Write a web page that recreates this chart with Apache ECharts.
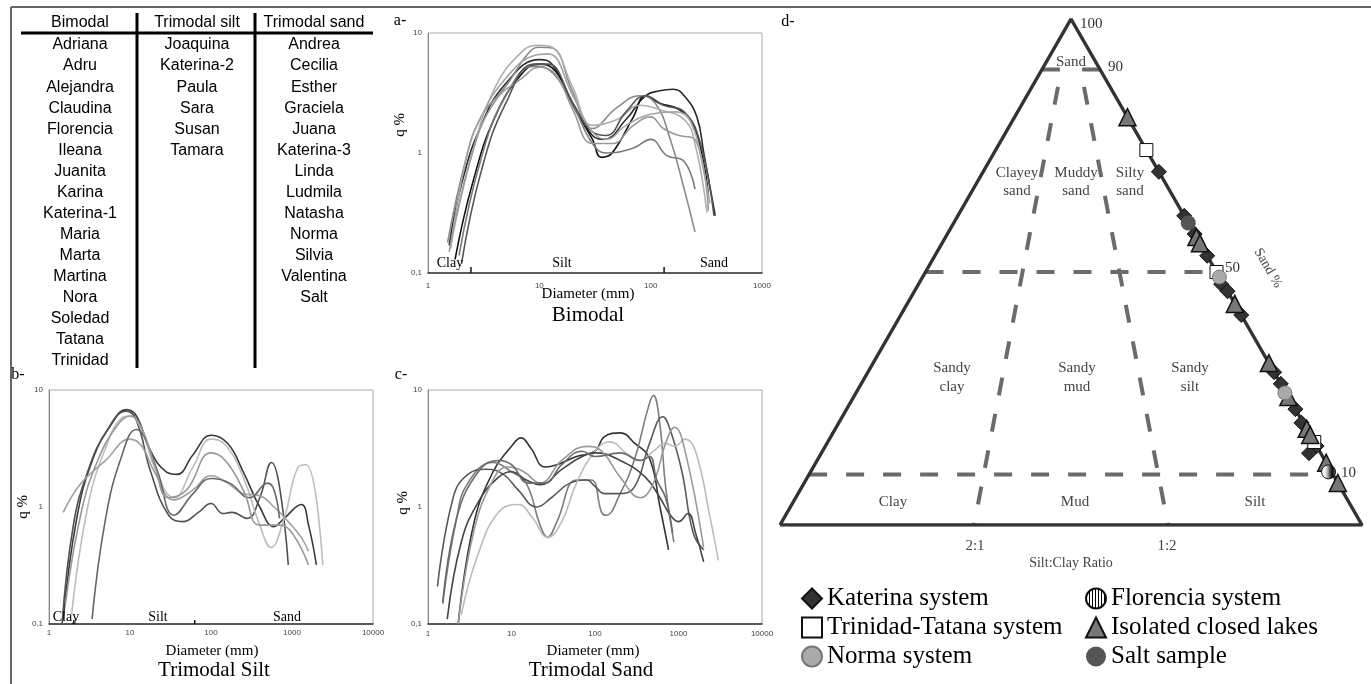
<!DOCTYPE html>
<html>
<head>
<meta charset="utf-8">
<script src="https://cdn.jsdelivr.net/npm/echarts@6/dist/echarts.min.js"></script>
<style>
  html, body { margin: 0; padding: 0; background: #fff; }
  #chart { width: 1371px; height: 684px; }
</style>
</head>
<body>
<div id="chart"></div>
<script>
const serif = 'Liberation Serif';
const sans = 'Liberation Sans';

// ---- table ----
const tableHeaders = ['Bimodal', 'Trimodal silt', 'Trimodal sand'];
const bimodalNames = ['Adriana', 'Adru', 'Alejandra', 'Claudina', 'Florencia', 'Ileana', 'Juanita', 'Karina',
  'Katerina-1', 'Maria', 'Marta', 'Martina', 'Nora', 'Soledad', 'Tatana', 'Trinidad'];
const trimodalSiltNames = ['Joaquina', 'Katerina-2', 'Paula', 'Sara', 'Susan', 'Tamara'];
const trimodalSandNames = ['Andrea', 'Cecilia', 'Esther', 'Graciela', 'Juana', 'Katerina-3', 'Linda', 'Ludmila',
  'Natasha', 'Norma', 'Silvia', 'Valentina', 'Salt'];

// ---- grain size curves [diameter, q%] ----
const bimodalCurves = [
  [[1.55,0.17],[2,0.55],[3,1.7],[5,3.8],[10,6.0],[13,5.5],[20,2.6],[30,1.4],[38,1.3],[60,1.9],[90,3.0],[120,3.3],[160,3.4],[200,3.0],[260,2.0],[300,1.0],[380,0.3]],
  [[1.75,0.13],[2.5,0.55],[4,2.0],[7,4.6],[10,5.5],[14,4.8],[20,2.5],[30,1.3],[36,0.92],[45,1.0],[70,2.0],[90,3.0],[120,2.6],[180,2.3],[250,1.6],[330,0.45]],
  [[1.5,0.18],[2.2,0.9],[3,2.0],[5,3.6],[8,6.8],[10,7.6],[13,7.5],[20,3.2],[30,1.6],[50,2.4],[80,3.0],[110,2.6],[150,1.3],[200,0.5],[250,0.22]],
  [[1.6,0.17],[2.5,1.0],[4,3.5],[7,7.0],[10,7.9],[13,7.6],[20,3.5],[30,1.7],[50,1.9],[80,2.5],[120,2.3],[200,1.9],[250,1.2],[320,0.32]],
  [[1.9,0.14],[3,0.9],[5,3.0],[9,5.3],[12,5.0],[20,2.5],[30,1.2],[40,1.0],[70,1.1],[100,1.3],[140,0.95],[200,0.85],[250,0.5]],
  [[1.55,0.15],[2.5,1.0],[4,2.7],[7,4.2],[10,5.2],[14,4.5],[20,2.3],[30,1.2],[45,1.2],[70,1.7],[100,2.0],[130,1.6],[180,1.4],[250,1.3],[330,0.33]],
  [[2.0,0.12],[3,0.7],[5,2.6],[9,5.5],[12,5.5],[20,2.6],[30,1.5],[40,1.4],[60,2.2],[90,3.0],[130,2.5],[200,2.2],[280,1.2],[370,0.3]],
  [[1.6,0.16],[2.2,0.9],[3,2.0],[5,4.2],[9,6.5],[12,6.7],[20,3.0],[30,1.5],[40,1.3],[60,1.7],[100,2.1],[170,2.2],[230,1.8],[300,0.7],[340,0.38]]
];
const bimodalColors = ['#2a2a2a', '#111', '#8a8a8a', '#b0b0b0', '#7a7a7a', '#999', '#555', '#a5a5a5'];

const trimodalSiltCurves = [
  [[1.5,0.11],[2.2,0.8],[3.5,2.6],[6,5.2],[9,6.8],[12,6.0],[18,3.0],[28,2.0],[38,1.9],[60,2.8],[100,4.1],[160,3.5],[250,2.0],[400,1.0],[600,0.68],[800,0.8],[1300,1.05],[1600,0.7],[2000,0.32]],
  [[1.45,0.1],[2,0.7],[3,2.0],[5,4.3],[9,6.6],[12,5.5],[18,2.0],[30,0.85],[45,0.75],[70,0.9],[100,1.07],[140,0.88],[180,0.9],[280,0.8],[400,1.2],[560,2.4],[700,1.5],[900,0.32]],
  [[1.9,0.12],[3,1.0],[5,3.2],[8,5.8],[10,6.0],[14,4.5],[20,2.2],[35,1.2],[60,2.2],[100,3.8],[150,3.4],[250,1.8],[400,0.7],[550,0.45],[800,0.8],[1200,2.2],[1500,2.3],[2400,0.32]],
  [[1.5,0.9],[2.5,1.6],[5,2.5],[10,3.8],[14,3.3],[20,2.0],[35,1.15],[60,1.4],[100,1.85],[160,1.6],[250,1.3],[400,1.25],[600,1.0],[900,0.75],[1300,0.55],[1600,0.42]],
  [[3.4,0.11],[5,0.8],[8,2.8],[12,4.6],[15,4.0],[22,2.0],[35,0.85],[60,1.3],[100,1.75],[170,1.6],[300,1.2],[500,1.6],[600,1.4],[700,0.8]],
  [[1.6,0.15],[2.5,0.9],[4,2.5],[7,5.0],[10,6.0],[14,4.7],[20,2.3],[30,1.2],[50,1.4],[100,2.9],[150,2.5],[250,1.4],[400,0.7],[700,0.7],[1000,0.6],[1600,0.32]]
];
const trimodalSiltColors = ['#3a3a3a', '#505050', '#bdbdbd', '#a0a0a0', '#666', '#999'];

const trimodalSandCurves = [
  [[2.3,0.1],[3.5,0.7],[6,2.0],[10,3.3],[13,3.9],[17,3.2],[25,2.2],[35,2.3],[60,2.7],[100,3.0],[130,4.0],[200,4.3],[300,3.5],[450,2.6],[600,1.0],[760,0.43]],
  [[1.5,0.15],[2.2,0.8],[3,1.6],[6,2.4],[10,2.0],[15,1.6],[22,0.7],[27,0.55],[35,0.75],[60,1.7],[90,1.7],[120,0.9],[135,0.85],[200,1.3],[300,2.6],[420,6.5],[500,9.0],[600,5.0],[700,1.5],[880,0.5]],
  [[1.3,0.21],[2,1.2],[3,1.9],[5,2.1],[8,1.9],[12,1.4],[20,1.0],[30,1.2],[50,1.6],[80,1.7],[100,1.5],[130,1.3],[200,1.3],[300,1.5],[450,3.5],[650,5.9],[800,4.5],[1100,2.0],[1500,0.6],[2000,0.43]],
  [[2.5,0.12],[4,0.4],[7,0.9],[12,1.05],[18,0.8],[27,0.55],[40,0.75],[60,1.6],[100,3.0],[150,3.6],[250,2.8],[350,2.5],[500,3.0],[700,3.5],[900,3.3],[1200,3.8],[1600,3.0],[2400,0.8],[3000,0.35]],
  [[1.7,0.11],[2.5,0.5],[4,1.1],[7,1.8],[10,2.0],[15,1.7],[22,1.55],[40,2.1],[70,2.7],[100,2.9],[200,2.5],[400,1.8],[600,1.2],[800,0.85],[1000,0.75],[1300,0.88],[1600,0.6],[2000,0.34]],
  [[2.3,0.1],[3.5,0.6],[6,1.7],[9,2.2],[14,2.0],[22,1.6],[40,2.5],[80,3.3],[120,3.0],[200,1.8],[350,1.2],[500,1.6],[700,3.5],[900,4.8],[1200,3.0],[2000,0.45]],
  [[1.5,0.15],[2.2,0.8],[4,2.0],[7,2.5],[10,2.3],[16,1.6],[25,1.6],[40,2.3],[70,3.0],[100,2.7],[200,2.9],[350,2.5],[450,2.7],[550,1.7],[700,1.2],[850,0.6]]
];
const trimodalSandColors = ['#333', '#7d7d7d', '#5a5a5a', '#bcbcbc', '#444', '#999', '#6a6a6a'];

// size class boundary ticks on the x axis
const boundsA = [2.43, 132];
const boundsB = [2.03, 63];

// ---- ternary (Folk) diagram: sand %, clay % ----
const sandLevels = [10, 50];
const ratioSilt = [1 / 3, 2 / 3];        // silt fraction of mud at 2:1 and 1:2
const katerinaSand = [69.8, 61.1, 57.5, 53.2, 47.6, 46.2, 41.5, 30.2, 27.9, 22.9, 20.2, 15.6, 14.2];
const katerinaClay = [0, 0, 0, 0, 0.4, 0, 0, 0, 0, 0, 0.3, 0, 2.0];
const trinidadSand = [74.1, 50.0, 16.4];
const trinidadClay = [0, 0, 0];
const normaSand = [49.0, 26.1];
const normaClay = [0, 0.2];
const florenciaSand = [10.5];
const florenciaClay = [0.5];
const isolatedSand = [80.6, 56.9, 55.7, 43.7, 32.0, 25.3, 19.0, 17.8, 12.3, 8.3];
const isolatedClay = [0, 0, 0, 0, 0, 0, 0, 0, 0, 0];
const saltSand = [59.7];
const saltClay = [0];

function tern(sand, clay) {
  const s = sand / 100, c = clay / 100;
  return [1 - c - s / 2, s];
}
function pts(sand, clay) { return sand.map((s, i) => tern(s, clay[i])); }

const chart = echarts.init(document.getElementById('chart'));

function logX(idx, max, margin) {
  return {
    type: 'log', logBase: 10, min: 1, max: max, gridIndex: idx, interval: 1,
    axisLine: { lineStyle: { color: '#333', width: 1.5 } },
    axisTick: { show: false }, splitLine: { show: false },
    axisLabel: { fontSize: 8, color: '#444', fontFamily: sans, margin: margin,
      formatter: v => String(Math.round(v)) }
  };
}
function logY(idx) {
  return {
    type: 'log', logBase: 10, min: 0.1, max: 10, gridIndex: idx, interval: 1,
    axisLine: { show: true, lineStyle: { color: '#888', width: 1 } },
    axisTick: { show: false }, splitLine: { show: false },
    axisLabel: { fontSize: 8, color: '#444', fontFamily: sans, margin: 6,
      formatter: v => v < 0.5 ? '0,1' : String(Math.round(v)) }
  };
}

const series = [];
function addCurves(curves, colors, idx) {
  curves.forEach((c, i) => series.push({
    type: 'line', xAxisIndex: idx, yAxisIndex: idx, data: c, smooth: 0.45,
    showSymbol: false, lineStyle: { color: colors[i % colors.length], width: 1.6 }, z: 3
  }));
}
addCurves(bimodalCurves, bimodalColors, 0);
addCurves(trimodalSiltCurves, trimodalSiltColors, 1);
addCurves(trimodalSandCurves, trimodalSandColors, 2);

function addBounds(bounds, idx, h) {
  bounds.forEach(b => series.push({
    type: 'line', xAxisIndex: idx, yAxisIndex: idx, data: [[b, 0.1], [b, h]],
    showSymbol: false, lineStyle: { color: '#111', width: 1.5 }, z: 4
  }));
}
addBounds(boundsA, 0, 0.112);
addBounds(boundsB, 1, 0.108);

// ternary lines
const dash = { color: '#6b6b6b', width: 4, type: [18, 19] };
series.push({
  type: 'line', xAxisIndex: 3, yAxisIndex: 3, showSymbol: false, z: 2,
  data: [tern(0, 100), tern(100, 0), tern(0, 0), tern(0, 100)],
  lineStyle: { color: '#333', width: 3.5 }
});
sandLevels.forEach(l => series.push({
  type: 'line', xAxisIndex: 3, yAxisIndex: 3, showSymbol: false, z: 1,
  data: [tern(l, 100 - l), tern(l, 0)], lineStyle: dash
}));
ratioSilt.forEach(r => {
  const edgeClay = r < 0.5 ? 10 : 0;
  series.push({
    type: 'line', xAxisIndex: 3, yAxisIndex: 3, showSymbol: false, z: 1,
    data: [tern(90, edgeClay), tern(90, 10 * (1 - r)), tern(0, 100 * (1 - r))], lineStyle: dash
  });
});

const stripe = document.createElement('canvas');
stripe.width = 3; stripe.height = 3;
const sg = stripe.getContext('2d');
sg.fillStyle = '#fff'; sg.fillRect(0, 0, 3, 3);
sg.fillStyle = '#000'; sg.fillRect(0, 0, 1, 3);

function scatter(name, data, symbol, size, color, border, bw, z) {
  series.push({
    name: name, type: 'scatter', xAxisIndex: 3, yAxisIndex: 3, data: data,
    symbol: symbol, symbolSize: size, z: z,
    itemStyle: { color: color, borderColor: border, borderWidth: bw, opacity: 1 }
  });
}
scatter('Katerina system', pts(katerinaSand, katerinaClay), 'diamond', 15, '#333', '#111', 1, 5);
scatter('Trinidad-Tatana system', pts(trinidadSand, trinidadClay), 'rect', 13, '#fff', '#111', 1, 6);
scatter('Norma system', pts(normaSand, normaClay), 'circle', 14, '#aaa', '#777', 1, 7);
scatter('Florencia system', pts(florenciaSand, florenciaClay), 'circle', 14, { image: stripe, repeat: 'repeat' }, '#111', 1, 8);
scatter('Isolated closed lakes', pts(isolatedSand, isolatedClay), 'triangle', 17, '#777', '#111', 1.5, 6);
scatter('Salt sample', pts(saltSand, saltClay), 'circle', 15, '#555', '#555', 0, 8);

// ---- texts ----
const graphic = [];
function txt(t, x, y, size, opts) {
  opts = opts || {};
  graphic.push({
    type: 'text', x: x, y: y, rotation: opts.rot || 0, z: 10,
    style: {
      text: t, fontSize: size, fontFamily: opts.font || serif, fill: opts.color || '#000',
      align: opts.align || 'center', verticalAlign: 'middle',
      textAlign: opts.align || 'center', textVerticalAlign: 'middle'
    }
  });
}
function ln(x1, y1, x2, y2, w, c) {
  graphic.push({ type: 'line', shape: { x1: x1, y1: y1, x2: x2, y2: y2 }, z: 10,
    style: { stroke: c, lineWidth: w } });
}
// frame
ln(11, 7, 1371, 7, 2, '#666');
ln(11, 7, 11, 684, 2, '#666');
// table
const colX = [80, 197, 314];
tableHeaders.forEach((h, i) => txt(h, colX[i], 23, 16, { font: sans }));
ln(21, 33, 373, 33, 3, '#000');
ln(137, 13, 137, 368, 3, '#000');
ln(255, 13, 255, 368, 3, '#000');
[bimodalNames, trimodalSiltNames, trimodalSandNames].forEach((col, i) =>
  col.forEach((n, j) => txt(n, colX[i], 45 + j * 21.07, 16, { font: sans })));

// chart a
txt('a-', 400, 21, 16);
txt('q %', 400, 125, 15, { rot: Math.PI / 2 });
txt('Clay', 450, 263, 14);
txt('Silt', 562, 263, 14);
txt('Sand', 714, 263, 14);
txt('Diameter (mm)', 588, 294, 15);
txt('Bimodal', 588, 315, 21);
// chart b
txt('b-', 18, 375, 16);
txt('q %', 23, 507, 15, { rot: Math.PI / 2 });
txt('Clay', 66, 617, 14);
txt('Silt', 158, 617, 14);
txt('Sand', 287, 617, 14);
txt('Diameter (mm)', 212, 651, 15);
txt('Trimodal Silt', 214, 670, 21);
// chart c
txt('c-', 401, 375, 16);
txt('q %', 403, 503, 15, { rot: Math.PI / 2 });
txt('Diameter (mm)', 593, 651, 15);
txt('Trimodal Sand', 591, 670, 21);
// ternary
const g = '#444';
txt('d-', 788, 22, 16);
txt('Sand', 1071, 62, 15, { color: g });
txt('Clayey', 1017, 173, 15, { color: g }); txt('sand', 1017, 191, 15, { color: g });
txt('Muddy', 1076, 173, 15, { color: g }); txt('sand', 1076, 191, 15, { color: g });
txt('Silty', 1130, 173, 15, { color: g }); txt('sand', 1130, 191, 15, { color: g });
txt('Sandy', 952, 368, 15, { color: g }); txt('clay', 952, 387, 15, { color: g });
txt('Sandy', 1077, 368, 15, { color: g }); txt('mud', 1077, 387, 15, { color: g });
txt('Sandy', 1190, 368, 15, { color: g }); txt('silt', 1190, 387, 15, { color: g });
txt('Clay', 893, 502, 15, { color: g });
txt('Mud', 1075, 502, 15, { color: g });
txt('Silt', 1255, 502, 15, { color: g });
txt('2:1', 975, 546, 15, { color: g });
txt('1:2', 1167, 546, 15, { color: g });
txt('Silt:Clay Ratio', 1071, 563, 14, { color: g });
txt('100', 1080, 24, 15, { color: '#333', align: 'left' });
txt('90', 1108, 67, 15, { color: '#333', align: 'left' });
txt('50', 1225, 268, 15, { color: '#333', align: 'left' });
txt('10', 1341, 473, 15, { color: '#333', align: 'left' });
txt('Sand %', 1268, 268, 14, { color: g, rot: -Math.PI / 3 });

const legendText = { fontSize: 25, fontFamily: serif, color: '#000' };
chart.setOption({
  animation: false,
  grid: [
    { left: 428, top: 33, width: 334, height: 240, show: true, borderColor: '#aaa', borderWidth: 1 },
    { left: 49, top: 390, width: 324, height: 234, show: true, borderColor: '#aaa', borderWidth: 1 },
    { left: 428, top: 390, width: 334, height: 234, show: true, borderColor: '#aaa', borderWidth: 1 },
    { left: 780, top: 19, width: 582, height: 506 }
  ],
  xAxis: [logX(0, 1000, 9), logX(1, 10000, 5), logX(2, 10000, 6),
    { type: 'value', min: 0, max: 1, gridIndex: 3, show: false }],
  yAxis: [logY(0), logY(1), logY(2),
    { type: 'value', min: 0, max: 1, gridIndex: 3, show: false }],
  legend: [
    { data: ['Katerina system', 'Trinidad-Tatana system', 'Norma system'], orient: 'vertical',
      left: 796, top: 581, itemGap: 4, itemWidth: 20, itemHeight: 20, textStyle: legendText, selectedMode: false },
    { data: ['Florencia system', 'Isolated closed lakes', 'Salt sample'], orient: 'vertical',
      left: 1080, top: 581, itemGap: 4, itemWidth: 20, itemHeight: 20, textStyle: legendText, selectedMode: false }
  ],
  graphic: graphic,
  series: series
});
</script>
</body>
</html>
